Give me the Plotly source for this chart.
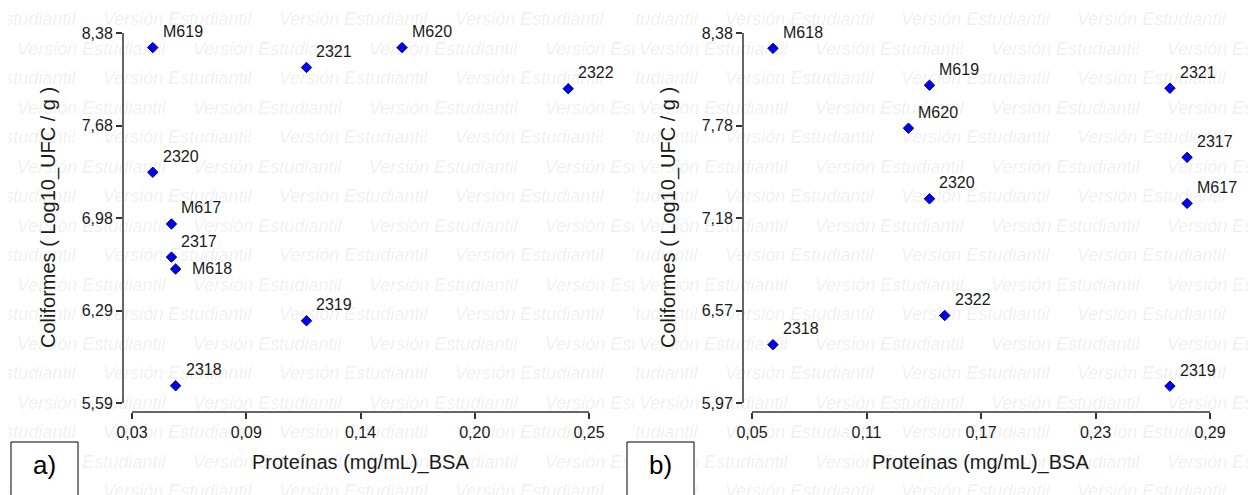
import plotly.graph_objects as go

# ---------------- data ----------------
# Panel a)
a_labels = ["M619", "2321", "M620", "2322", "2320", "M617", "2317", "M618", "2319", "2318"]
a_prot = [0.040, 0.114, 0.160, 0.240, 0.040, 0.049, 0.049, 0.051, 0.114, 0.051]
a_colif = [8.27, 8.12, 8.27, 7.96, 7.33, 6.94, 6.69, 6.60, 6.21, 5.72]
a_xticks = [0.03, 0.085, 0.14, 0.195, 0.25]
a_xticktext = ["0,03", "0,09", "0,14", "0,20", "0,25"]
a_yticks = [5.59, 6.2875, 6.985, 7.6825, 8.38]
a_yticktext = ["5,59", "6,29", "6,98", "7,68", "8,38"]

# Panel b)
b_labels = ["M618", "M619", "2321", "M620", "2317", "2320", "M617", "2322", "2318", "2319"]
b_prot = [0.061, 0.143, 0.269, 0.132, 0.278, 0.143, 0.278, 0.151, 0.061, 0.269]
b_colif = [8.28, 8.04, 8.02, 7.76, 7.57, 7.30, 7.27, 6.54, 6.35, 6.08]
b_xticks = [0.05, 0.11, 0.17, 0.23, 0.29]
b_xticktext = ["0,05", "0,11", "0,17", "0,23", "0,29"]
b_yticks = [5.97, 6.5725, 7.175, 7.7775, 8.38]
b_yticktext = ["5,97", "6,57", "7,18", "7,78", "8,38"]

x_title = "Proteínas (mg/mL)_BSA"
y_title = "Coliformes ( Log10_UFC / g )"
watermark = "Versión Estudiantil"

# ---------------- layout geometry (page pixels) ----------------
W, H = 1256, 495
OFF = 8  # default body margin of the html page
FONT = "Liberation Sans, Arial, sans-serif"
TXT = "#1a1a1a"
AX = "#333333"


def px(p):
    return (p - OFF) / W


def py(p):
    return 1 - (p - OFF) / H


panels = [
    dict(name="a)", labels=a_labels, x=a_prot, y=a_colif,
         xt=a_xticks, xtt=a_xticktext, yt=a_yticks, ytt=a_yticktext,
         xdom=(123, 605), xpx=(132, 589), ytitle_x=48, xtitle_x=360,
         box=(11, 78), boxtext_x=44,
         special={"M618": (14, 1)}),
    dict(name="b)", labels=b_labels, x=b_prot, y=b_colif,
         xt=b_xticks, xtt=b_xticktext, yt=b_yticks, ytt=b_yticktext,
         xdom=(743, 1225), xpx=(752, 1210), ytitle_x=668, xtitle_x=980,
         box=(627, 694), boxtext_x=660,
         special={}),
]
YDOM = (25, 412)     # top, bottom pixel of plot area
YPX = (403, 33)      # pixel of first / last y tick

fig = go.Figure()
shapes = []
annotations = []
layout_axes = {}

# ---------------- watermark (background subplots) ----------------
regions = [(OFF, 634, 0), (634, W + OFF, 622)]
for i, (x0p, x1p, shift) in enumerate(regions):
    ax_id = "" if i == 0 else "2"
    xs, ys = [], []
    for k in range(17):
        yy = 20.7 + 29.5 * k
        base = (-73 if k % 2 == 0 else 17) + shift
        for j in range(-2, 10):
            st = base + 176 * j
            if st < x1p and st + 150 > x0p:
                xs.append(st)
                ys.append(yy)
    fig.add_trace(go.Scatter(
        x=xs, y=ys, mode="text", text=[watermark] * len(xs),
        textposition="middle right",
        textfont=dict(family=FONT, size=18, color="rgba(0,0,0,0.075)", style="italic"),
        cliponaxis=True, hoverinfo="skip", showlegend=False,
        xaxis="x" + ax_id, yaxis="y" + ax_id))
    layout_axes["xaxis" + ax_id] = dict(domain=[px(x0p), min(1, px(x1p))], range=[x0p, x1p],
                                        visible=False, fixedrange=True, automargin=False)
    layout_axes["yaxis" + ax_id] = dict(domain=[0, 1], range=[H + OFF, OFF], visible=False,
                                        fixedrange=True, anchor="x" + ax_id, automargin=False)

# ---------------- data panels ----------------
for i, p in enumerate(panels):
    n = str(i + 3)
    xa, ya = "x" + n, "y" + n
    t0, t1 = p["xt"][0], p["xt"][-1]
    sx = (t1 - t0) / (p["xpx"][1] - p["xpx"][0])
    xr = [t0 - (p["xpx"][0] - p["xdom"][0]) * sx, t1 + (p["xdom"][1] - p["xpx"][1]) * sx]
    u0, u1 = p["yt"][0], p["yt"][-1]
    sy = (u1 - u0) / (YPX[0] - YPX[1])
    yr = [u0 - (YDOM[1] - YPX[0]) * sy, u1 + (YPX[1] - YDOM[0]) * sy]

    axcommon = dict(showgrid=False, zeroline=False, showline=False, ticks="outside",
                    ticklen=6, tickwidth=1.5, tickcolor=AX, automargin=False,
                    tickfont=dict(family=FONT, size=16, color=TXT), fixedrange=True)
    layout_axes["xaxis" + n] = dict(axcommon, domain=[px(p["xdom"][0]), px(p["xdom"][1])],
                                    range=xr, tickvals=p["xt"], ticktext=p["xtt"], anchor=ya)
    layout_axes["yaxis" + n] = dict(axcommon, domain=[py(YDOM[1]), py(YDOM[0])],
                                    range=yr, tickvals=p["yt"], ticktext=p["ytt"], anchor=xa)

    fig.add_trace(go.Scatter(
        x=p["x"], y=p["y"], mode="markers", xaxis=xa, yaxis=ya, showlegend=False,
        marker=dict(symbol="diamond", size=8, color="#0000ff",
                    line=dict(width=1, color="#00005a")),
        cliponaxis=False, hoverinfo="text", text=p["labels"]))

    for lab, xv, yv in zip(p["labels"], p["x"], p["y"]):
        dx, dy = p["special"].get(lab, (8, 16))
        annotations.append(dict(x=xv, y=yv, xref=xa, yref=ya, text=lab, showarrow=False,
                                xanchor="left", yanchor="middle", xshift=dx, yshift=dy,
                                font=dict(family=FONT, size=16, color=TXT)))

    # offset axis lines spanning first..last tick
    shapes.append(dict(type="line", xref=xa + " domain", yref=ya, x0=0, x1=0,
                       y0=u0, y1=u1, line=dict(color=AX, width=1.5)))
    shapes.append(dict(type="line", xref=xa, yref=ya + " domain", x0=t0, x1=t1,
                       y0=0, y1=0, line=dict(color=AX, width=1.5)))

    # axis titles
    annotations.append(dict(x=px(p["ytitle_x"]), y=py(218), xref="paper", yref="paper",
                            text=y_title, textangle=-90, showarrow=False,
                            xanchor="center", yanchor="middle",
                            font=dict(family=FONT, size=20, color=TXT)))
    annotations.append(dict(x=px(p["xtitle_x"]), y=py(462), xref="paper", yref="paper",
                            text=x_title, showarrow=False, xanchor="center", yanchor="middle",
                            font=dict(family=FONT, size=20, color=TXT)))

    # panel label box
    shapes.append(dict(type="rect", xref="paper", yref="paper",
                       x0=px(p["box"][0]), x1=px(p["box"][1]),
                       y0=-0.05, y1=py(442), fillcolor="white",
                       line=dict(color="black", width=1), layer="above"))
    annotations.append(dict(x=px(p["boxtext_x"]), y=py(465), xref="paper", yref="paper",
                            text=p["name"], showarrow=False, xanchor="center", yanchor="middle",
                            font=dict(family=FONT, size=26, color="black")))

fig.update_layout(
    template="none",
    width=W, height=H, margin=dict(l=0, r=0, t=0, b=0, pad=0, autoexpand=False),
    paper_bgcolor="white", plot_bgcolor="rgba(0,0,0,0)",
    showlegend=False, shapes=shapes, annotations=annotations,
    **layout_axes)

fig.write_html("out.html")
